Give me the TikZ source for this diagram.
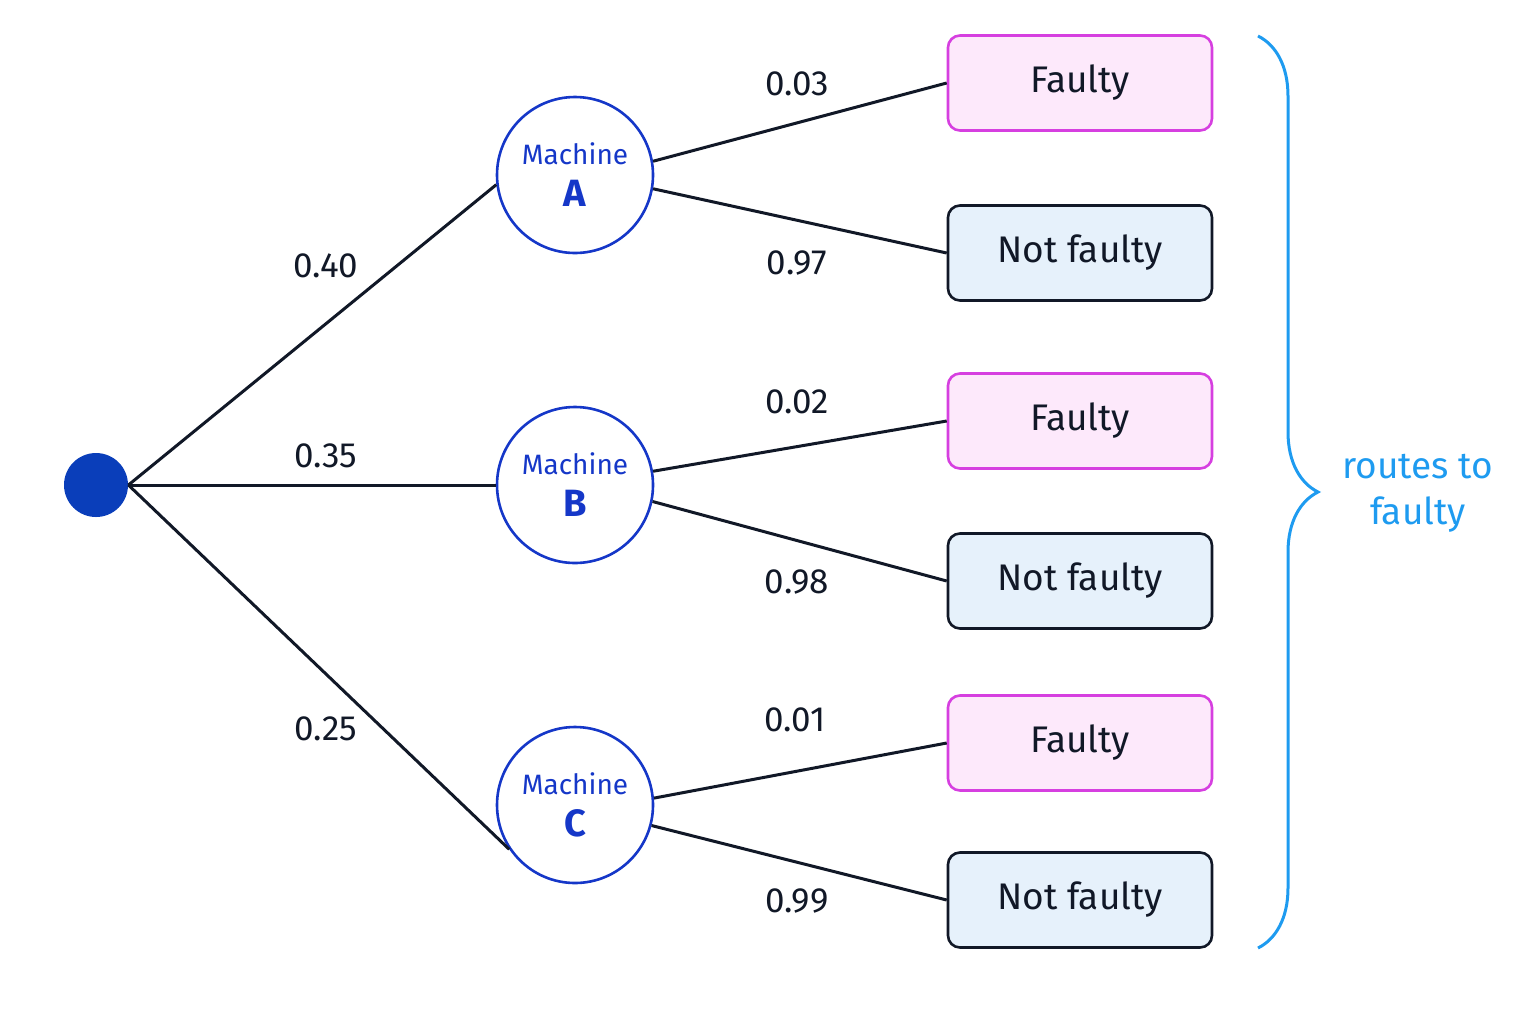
\documentclass[tikz,border=0pt]{standalone}
\usepackage{fontspec}
\setmainfont{Fira Sans}
\usetikzlibrary{decorations.pathreplacing}
\definecolor{ink}{HTML}{111827}
\definecolor{mblue}{HTML}{1537C8}
\definecolor{rootc}{HTML}{0A3EBA}
\definecolor{fpink}{HTML}{FDE9FB}
\definecolor{fmag}{HTML}{D63FE0}
\definecolor{nfill}{HTML}{E6F1FB}
\definecolor{brc}{HTML}{1E9BF0}
\begin{document}
\begin{tikzpicture}[x=0.5pt,y=-0.5pt,
  mach/.style={circle,draw=mblue,line width=1.3pt,fill=white,minimum size=78pt,inner sep=0pt,text=mblue,align=center,font=\fontsize{14}{21}\selectfont},
  faultybox/.style={rectangle,rounded corners=6pt,draw=fmag,fill=fpink,line width=1.3pt,minimum width=132pt,minimum height=47.5pt,font=\fontsize{18.5}{20}\selectfont,text=ink},
  okbox/.style={faultybox,draw=ink,fill=nfill},
  edge/.style={draw=ink,line width=1.5pt},
  prob/.style={font=\fontsize{17.5}{19}\selectfont,text=ink}]
\useasboundingbox (0,0) rectangle (1536,1024);
\node[circle,fill=rootc,minimum size=32pt,inner sep=0pt] (r) at (96,485) {};
\node[mach] (A) at (575,175) {Machine\\{\fontsize{19}{21}\selectfont\bfseries A}};
\node[mach] (B) at (575,485) {Machine\\{\fontsize{19}{21}\selectfont\bfseries B}};
\node[mach] (C) at (575,805) {Machine\\{\fontsize{19}{21}\selectfont\bfseries C}};
\node[faultybox] (f1) at (1080,83) {Faulty};
\node[okbox] (n1) at (1080,253) {Not faulty};
\node[faultybox] (f2) at (1080,421) {Faulty};
\node[okbox] (n2) at (1080,581) {Not faulty};
\node[faultybox] (f3) at (1080,743) {Faulty};
\node[okbox] (n3) at (1080,900) {Not faulty};
\draw[edge] (r.east) -- (A.187);
\draw[edge] (r.east) -- (B);
\draw[edge] (r.east) -- (C.214);
\draw[edge] (A.10) -- (f1.west);
\draw[edge] (A.-10) -- (n1.west);
\draw[edge] (B.10) -- (f2.west);
\draw[edge] (B.-12) -- (n2.west);
\draw[edge] (C.5) -- (f3.west);
\draw[edge] (C.-15) -- (n3.west);
\node[prob] (p1) at (326,266) {0.40};
\node[prob] (p2) at (326,456) {0.35};
\node[prob] (p3) at (326,729) {0.25};
\node[prob] (q1) at (797,84) {0.03};
\node[prob] (q2) at (797,263) {0.97};
\node[prob] (q3) at (797,402) {0.02};
\node[prob] (q4) at (797,582) {0.98};
\node[prob] (q5) at (795,720) {0.01};
\node[prob] (q6) at (797,901) {0.99};
\coordinate (bt) at (1258,36);
\coordinate (bb) at (1258,948);
\draw[brc,line width=1.5pt,decorate,decoration={brace,amplitude=30pt,raise=0pt}] (bt) -- (bb);
\node[text=brc,align=center,font=\fontsize{18.5}{23}\selectfont] (lab) at (1418,493) {routes to\\faulty};
\end{tikzpicture}
\end{document}
